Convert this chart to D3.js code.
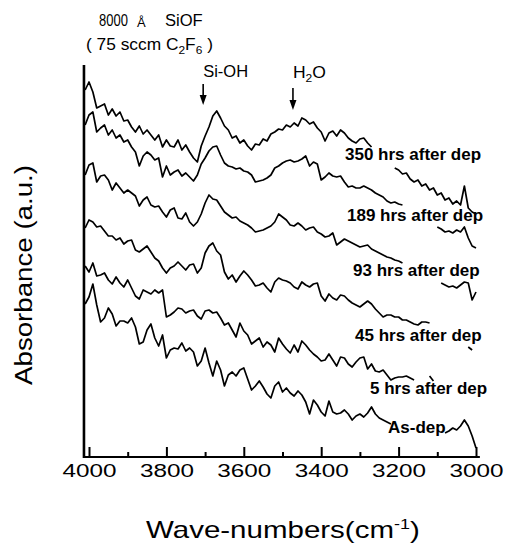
<!DOCTYPE html>
<html>
<head>
<meta charset="utf-8">
<script src="https://cdn.jsdelivr.net/npm/d3@7"></script>
<style>
  body { margin: 0; background: #fff; }
  svg { display: block; }
  text { font-family: "Liberation Sans", Arial, Helvetica, sans-serif; fill: #000; }
</style>
</head>
<body>
<svg id="chart" width="510" height="546"></svg>
<script>
// FTIR spectra of an 8000 Å SiOF film, 4000-3000 cm-1, recorded at several times after deposition.
// Absorbance in arbitrary units (curves offset vertically); null = trace hidden behind its label.
const wavenumbers = d3.range(4010, 2999, -10);   // 4010 ... 3000 cm-1, 10 cm-1 step

const hrs350 = [
  367,375,365,349,351,353,342,348,341,345,
  336,337,330,325,331,323,327,322,317,322,
  310,317,311,310,317,307,312,305,299,295,
  311,321,330,341,346,339,331,327,319,321,
  314,317,311,307,313,312,318,316,323,325,
  328,327,332,330,334,331,339,337,333,335,
  329,325,316,324,326,321,327,324,319,316,
  314,318,319,314,310,null,null,null,null,null,
  289,287,283,284,278,275,277,271,273,267,
  269,262,264,257,259,253,256,252,271,249,
  245,243
];
const hrs189 = [
  332,342,345,325,329,332,322,327,319,322,
  315,317,310,305,291,301,305,302,297,299,
  280,291,282,285,287,281,284,280,276,282,
  293,299,306,310,311,302,294,291,290,288,
  289,286,285,282,275,276,277,279,282,289,
  291,294,296,297,295,296,298,301,291,295,
  293,277,280,284,281,280,281,275,270,271,
  269,269,271,269,267,264,262,260,256,254,
  255,253,252,null,null,null,null,null,null,null,
  null,230,228,225,226,224,227,225,230,219,
  211,209
];
const hrs93 = [
  282,292,294,275,281,282,277,267,274,269,
  264,267,264,261,251,257,260,252,250,251,
  245,240,247,249,239,238,244,235,231,235,
  243,254,262,258,257,251,245,242,239,240,
  236,234,232,229,225,226,227,229,231,235,
  243,240,237,232,231,234,231,227,229,230,
  225,223,220,221,224,212,215,218,216,214,
  212,210,211,212,208,206,204,202,200,199,
  197,196,194,null,null,null,null,null,null,null,
  null,null,174,172,170,171,169,172,175,174,
  157,165
];
const hrs45 = [
  229,237,235,230,231,226,221,221,217,219,
  213,216,217,207,205,208,211,205,199,196,
  189,184,189,191,195,191,187,192,193,184,
  189,204,211,214,206,202,185,178,182,175,
  181,186,182,177,171,172,174,169,165,175,
  179,177,176,174,170,168,175,172,170,173,
  174,161,156,163,159,157,162,161,157,154,
  152,150,153,156,153,148,144,140,142,142,
  140,140,137,137,135,133,132,135,135,134,
  null,null,null,null,null,null,null,null,null,110,
  107,null
];
const hrs5 = [
  191,185,194,181,182,184,177,173,180,174,
  170,177,169,161,158,167,165,163,167,164,
  167,140,142,145,149,148,144,146,147,141,
  138,146,147,144,145,139,132,134,127,120,
  134,126,122,113,116,119,110,115,112,105,
  119,113,108,104,112,105,116,112,107,103,
  100,96,97,103,97,91,100,99,93,90,
  95,99,100,88,93,86,85,87,82,77,
  79,80,80,81,79,77,null,null,null,81,
  76,null,null,null,null,null,null,null,null,null,
  null,null
];
const asDep = [
  153,160,173,152,135,139,149,143,131,136,
  136,134,139,130,113,115,127,133,119,111,
  122,99,107,109,108,114,106,109,105,91,
  96,109,94,81,96,87,71,82,85,81,
  87,89,78,67,71,76,70,63,59,71,
  75,65,69,64,61,66,62,55,43,57,
  52,45,41,56,45,43,44,47,43,37,
  41,43,40,44,50,43,39,37,35,33,
  null,null,null,null,null,null,null,null,null,null,
  null,null,null,24,26,29,27,31,37,31,
  21,9
];

const seriesLabels = ["350 hrs after dep", "189 hrs after dep", "93 hrs after dep",
                      "45 hrs after dep", "5 hrs after dep", "As-dep"];
const seriesValues = [hrs350, hrs189, hrs93, hrs45, hrs5, asDep];
const majorTicks = [4000, 3800, 3600, 3400, 3200, 3000];
const minorTicks = [3900, 3700, 3500, 3300, 3100];
const bandNames = ["Si-OH", "H2O"];
const bandPositions = [3705, 3473];

const svg = d3.select("#chart");

// Scales: wavenumber decreases to the right
const x = d3.scaleLinear().domain([4000, 3000]).range([89, 476]);
const y = d3.scaleLinear().domain([0, 392]).range([457, 65]);
const plotBottom = y(0);

// Spectra
const line = d3.line()
  .defined(d => d[1] !== null)
  .x(d => x(d[0]))
  .y(d => y(d[1]));

svg.append("g").selectAll("path")
  .data(seriesValues)
  .join("path")
  .attr("d", vals => line(wavenumbers.map((w, i) => [w, vals[i]])))
  .attr("fill", "none")
  .attr("stroke", "#000")
  .attr("stroke-width", 1.7)
  .attr("stroke-linejoin", "round");

// Axes frame (left and bottom)
svg.append("line")
  .attr("x1", x(4013)).attr("x2", x(4013))
  .attr("y1", y(392)).attr("y2", plotBottom + 1)
  .attr("stroke", "#000").attr("stroke-width", 2.6);
svg.append("line")
  .attr("x1", x(4013)).attr("x2", x(2990))
  .attr("y1", plotBottom).attr("y2", plotBottom)
  .attr("stroke", "#000").attr("stroke-width", 2);

// Inward ticks
const gMajor = svg.append("g")
  .attr("transform", `translate(0,${plotBottom})`)
  .call(d3.axisBottom(x).tickValues(majorTicks).tickSize(-10).tickPadding(7).tickFormat(d3.format("d")))
  .attr("font-size", null).attr("font-family", null);
gMajor.select(".domain").remove();
gMajor.selectAll(".tick line").attr("stroke-width", 2);
gMajor.selectAll(".tick text")
  .attr("font-size", 18.5)
  .attr("textLength", 54)
  .attr("lengthAdjust", "spacingAndGlyphs");

const gMinor = svg.append("g")
  .attr("transform", `translate(0,${plotBottom})`)
  .call(d3.axisBottom(x).tickValues(minorTicks).tickSize(-5).tickFormat(""));
gMinor.select(".domain").remove();
gMinor.selectAll(".tick line").attr("stroke-width", 2);

// Text helper: draws text at (tx, ty) and stretches it horizontally to a given width
function fitText(parent, tx, ty, width, build, rotate) {
  const g = parent.append("g")
    .attr("transform", `translate(${tx},${ty})` + (rotate ? ` rotate(${rotate})` : ""));
  const t = g.append("text");
  build(t);
  const w = t.node().getBBox().width;
  t.attr("transform", `scale(${width / w},1)`);
  return t;
}

// Axis titles
fitText(svg, 146, 538, 274, t => {
  t.attr("font-size", 23);
  t.append("tspan").text("Wave-numbers(cm");
  t.append("tspan").attr("font-size", 14).attr("dy", -9).text("-1");
  t.append("tspan").attr("dy", 9).text(")");
});
fitText(svg, 32, 275, 220, t => {
  t.attr("font-size", 23).attr("text-anchor", "middle").text("Absorbance (a.u.)");
}, -90);

// Sample description
fitText(svg, 99, 26, 29, t => t.attr("font-size", 16).text("8000"));
svg.append("text").attr("x", 137).attr("y", 27).attr("font-size", 13).text("Å");
fitText(svg, 165, 26, 38, t => t.attr("font-size", 16).text("SiOF"));
fitText(svg, 86, 50, 127, t => {
  t.attr("font-size", 16);
  t.append("tspan").text("( 75 sccm C");
  t.append("tspan").attr("font-size", 11).attr("dy", 4).text("2");
  t.append("tspan").attr("dy", -4).text("F");
  t.append("tspan").attr("font-size", 11).attr("dy", 4).text("6");
  t.append("tspan").attr("dy", -4).text(" )");
});

// Band markers
fitText(svg, x(bandPositions[0]), 77, 45, t => t.attr("font-size", 16).text(bandNames[0]));
fitText(svg, x(bandPositions[1]), 78, 33, t => {
  t.attr("font-size", 16);
  t.append("tspan").text("H");
  t.append("tspan").attr("font-size", 11).attr("dy", 4).text("2");
  t.append("tspan").attr("dy", -4).text("O");
});
const arrowTops = [84, 88];
const arrowTips = [105, 110];
bandPositions.forEach((w, i) => {
  const ax = x(w);
  svg.append("line")
    .attr("x1", ax).attr("x2", ax)
    .attr("y1", arrowTops[i]).attr("y2", arrowTips[i] - 8)
    .attr("stroke", "#000").attr("stroke-width", 1.6);
  svg.append("path")
    .attr("d", `M${ax - 3.5},${arrowTips[i] - 10}L${ax + 3.5},${arrowTips[i] - 10}L${ax},${arrowTips[i]}Z`)
    .attr("fill", "#000");
});

// Curve labels
const labelSpots = [[345, 160], [347, 221], [353, 276], [355, 341], [370, 394], [388, 433]];
svg.append("g").selectAll("text")
  .data(seriesLabels)
  .join("text")
  .attr("x", (d, i) => labelSpots[i][0])
  .attr("y", (d, i) => labelSpots[i][1])
  .attr("font-size", 17)
  .attr("font-weight", "bold")
  .text(d => d);
</script>
</body>
</html>
